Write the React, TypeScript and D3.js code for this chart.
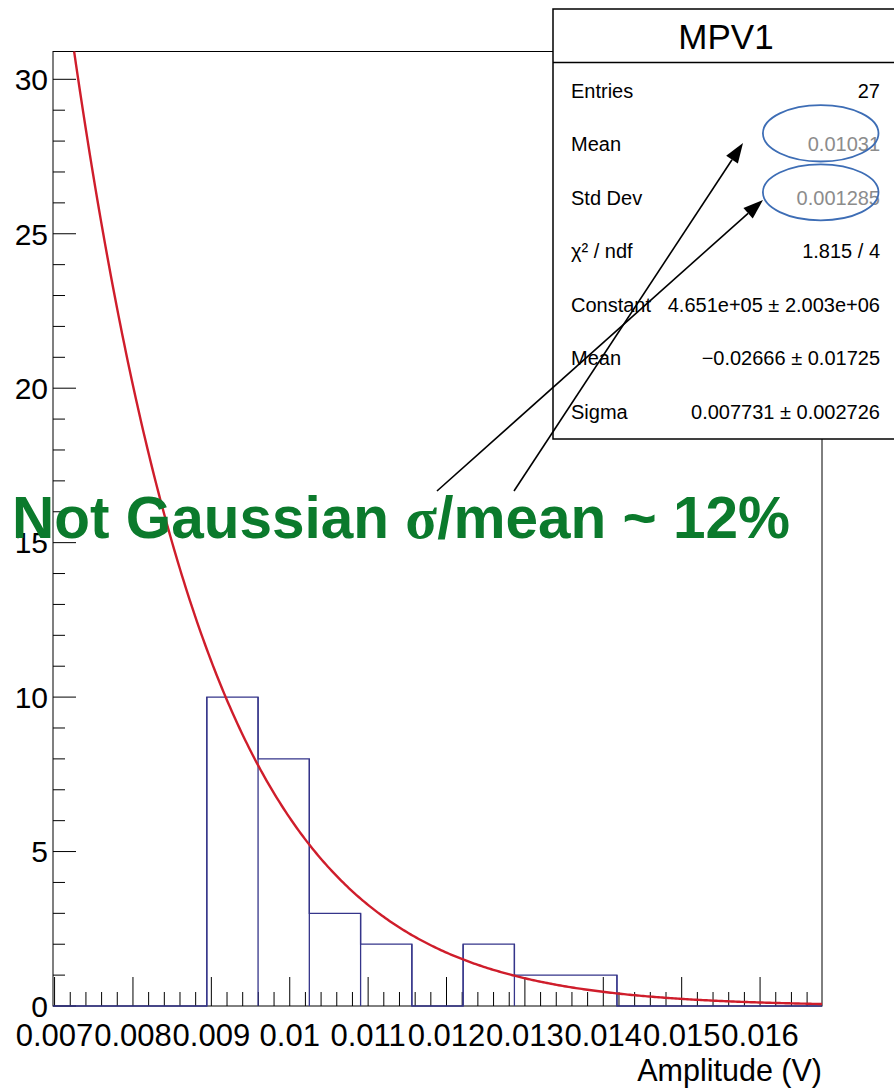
import React from "react";
import * as d3 from "d3";

const W = 894;
const H = 1088;

// Histogram data (MPV1)
const binEdgesStart = 0.00698;
const binWidth = 0.000654;
const binCounts = [0, 0, 0, 10, 8, 3, 2, 0, 2, 1, 1, 0, 0, 0, 0];

// Axis ticks
const xTickValues = [0.007, 0.008, 0.009, 0.01, 0.011, 0.012, 0.013, 0.014, 0.015, 0.016];
const xTickLabels = ["0.007", "0.008", "0.009", "0.01", "0.011", "0.012", "0.013", "0.014", "0.015", "0.016"];
const yTickValues = [0, 5, 10, 15, 20, 25, 30];
const yMax = 30.9;

// Gaussian fit parameters
const fitConstant = 4.651e5;
const fitMean = -0.02666;
const fitSigma = 0.007731;

// Stats box rows
const statLabels = ["Entries", "Mean", "Std Dev", "χ² / ndf", "Constant", "Mean", "Sigma"];
const statValues = ["27", "0.01031", "0.001285", "1.815 / 4", "4.651e+05 ± 2.003e+06", "−0.02666 ± 0.01725", "0.007731 ± 0.002726"];
const statGray = [false, true, true, false, false, false, false];

export default function App() {
  const left = 53, right = 822, top = 51.5, bottom = 1006;
  const xMax = binEdgesStart + binWidth * binCounts.length;
  const x = d3.scaleLinear().domain([binEdgesStart, xMax]).range([left, right]);
  const y = d3.scaleLinear().domain([0, yMax]).range([bottom, top]);

  // histogram step path
  let hp = "";
  binCounts.forEach((c, i) => {
    const x0 = x(binEdgesStart + i * binWidth);
    const x1 = x(binEdgesStart + (i + 1) * binWidth);
    if (i === 0) hp += `M${x0},${y(c)}`;
    else hp += `L${x0},${y(c)}`;
    hp += `L${x1},${y(c)}`;
  });
  const histPath = hp;

  // fit curve
  const fx = d3.range(0, 401).map((i) => binEdgesStart + (xMax - binEdgesStart) * i / 400);
  const gauss = (v: number) => fitConstant * Math.exp(-0.5 * ((v - fitMean) / fitSigma) ** 2);
  const xTop = fitMean + fitSigma * Math.sqrt(2 * Math.log(fitConstant / yMax));
  const fitPts = [xTop, ...fx.filter((v) => v > xTop)];
  const fitLine = d3
    .line<number>()
    .x((v) => x(v))
    .y((v) => y(Math.min(gauss(v), yMax)))(fitPts);

  // ticks
  const xMinor = d3.range(0, 60).map((i) => 0.007 + i * 0.0002).filter((v) => v <= xMax + 1e-9);
  const yMinor = d3.range(0, 31).filter((v) => v <= yMax);

  const rowY = (i: number) => 97.5 + i * 53.5;

  const arrow = (x1: number, y1: number, x2: number, y2: number, key: string) => {
    const ang = Math.atan2(y2 - y1, x2 - x1);
    const L = 20, Wd = 7;
    const bx = x2 - L * Math.cos(ang), by = y2 - L * Math.sin(ang);
    const p1 = [bx + Wd * Math.sin(ang), by - Wd * Math.cos(ang)];
    const p2 = [bx - Wd * Math.sin(ang), by + Wd * Math.cos(ang)];
    return (
      <g key={key}>
        <line x1={x1} y1={y1} x2={bx} y2={by} stroke="#000" strokeWidth={1.6} />
        <polygon points={`${x2},${y2} ${p1[0]},${p1[1]} ${p2[0]},${p2[1]}`} fill="#000" />
      </g>
    );
  };

  return (
    <svg width={W} height={H} style={{ position: "absolute", left: 0, top: 0, background: "#fff" }} fontFamily="'Liberation Sans', Arial, sans-serif">
      <rect x={0} y={0} width={W} height={H} fill="#fff" />
      {/* frame */}
      <rect x={left} y={top} width={right - left} height={bottom - top} fill="none" stroke="#000" strokeWidth={1} />

      {/* x ticks */}
      {xMinor.map((v, i) => {
        const major = Math.abs(((v - 0.007) / 0.001) - Math.round((v - 0.007) / 0.001)) < 1e-6;
        return <line key={"xm" + i} x1={x(v)} x2={x(v)} y1={bottom} y2={bottom - (major ? 29 : 14)} stroke="#000" strokeWidth={1} />;
      })}
      {xTickValues.map((v, i) => (
        <text key={"xl" + i} x={x(v)} y={1046} fontSize={31} textAnchor="middle" fill="#000">{xTickLabels[i]}</text>
      ))}
      <text x={right} y={1081} fontSize={30.5} textAnchor="end" fill="#000">Amplitude (V)</text>

      {/* y ticks */}
      {yMinor.map((v) => (
        <line key={"ym" + v} x1={left} x2={left + (v % 5 === 0 ? 23 : 12)} y1={y(v)} y2={y(v)} stroke="#000" strokeWidth={1} />
      ))}
      {yTickValues.map((v) => (
        <text key={"yl" + v} x={48} y={y(v)} dy="0.36em" fontSize={30} textAnchor="end" fill="#000">{v}</text>
      ))}

      {/* histogram */}
      <path d={histPath} fill="none" stroke="#35358a" strokeWidth={1.3} />
      {binCounts.map((c, i) => {
        const prev = i === 0 ? 0 : binCounts[i - 1];
        const xe = x(binEdgesStart + i * binWidth);
        return c !== prev ? <line key={"hv" + i} x1={xe} x2={xe} y1={y(Math.max(c, prev))} y2={bottom} stroke="#35358a" strokeWidth={1.3} /> : null;
      })}

      {/* fit */}
      <path d={fitLine || ""} fill="none" stroke="#cf1d2b" strokeWidth={2.4} />

      {/* stats box */}
      <rect x={553} y={9} width={345} height={430} fill="#fff" stroke="#000" strokeWidth={1.5} />
      <line x1={553} x2={898} y1={62.5} y2={62.5} stroke="#000" strokeWidth={1.5} />
      <text x={726} y={49} fontSize={35} textAnchor="middle" fill="#000">MPV1</text>
      {statLabels.map((l, i) => (
        <g key={"st" + i}>
          <text x={571} y={rowY(i)} fontSize={20} fill="#000">{l}</text>
          <text x={880} y={rowY(i)} fontSize={20} textAnchor="end" fill={statGray[i] ? "#8c8c8c" : "#000"}>{statValues[i]}</text>
        </g>
      ))}

      {/* ellipses */}
      <ellipse cx={820.7} cy={133.3} rx={57.8} ry={28.2} fill="none" stroke="#3d6db5" strokeWidth={1.8} />
      <ellipse cx={820.7} cy={192.3} rx={57.8} ry={28} fill="none" stroke="#3d6db5" strokeWidth={1.8} />

      {/* arrows */}
      {arrow(437, 491, 763, 200, "a1")}
      {arrow(514, 491, 743, 143, "a2")}

      {/* annotation */}
      <text x={12} y={538} fontSize={58.5} fontWeight="bold" fill="#0b7a2c">
        Not Gaussian <tspan fontFamily="'Liberation Serif', 'Times New Roman', serif">σ</tspan>/mean ~ 12%
      </text>
    </svg>
  );
}
